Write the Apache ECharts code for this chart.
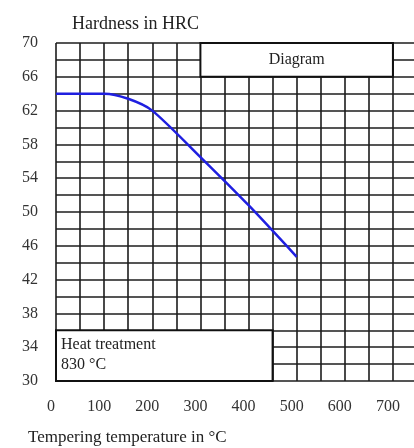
<!DOCTYPE html>
<html>
<head>
<meta charset="utf-8">
<script src="https://cdn.jsdelivr.net/npm/echarts@6/dist/echarts.min.js"></script>
<style>
  html, body { margin: 0; padding: 0; background: #fff; }
  #main { width: 414px; height: 448px; }
</style>
</head>
<body>
<div id="main"></div>
<script>
// tempering temperature (°C) and hardness (HRC)
var temps = [0, 100, 150, 200, 300, 400, 500];
var hardness = [64, 64, 63.4, 62, 56.5, 50.8, 44.7];

// tick labels (grid is finer: every 50 °C / every 2 HRC)
var xLabels = [0, 100, 200, 300, 400, 500, 600, 700];
var yLabels = [30, 34, 38, 42, 46, 50, 54, 58, 62, 66, 70];

// boxes drawn on the grid
var diagramBox = { text: 'Diagram', x: [300, 700], y: [66, 70] };
var heatBox = { text: 'Heat treatment\n830 °C', x: [0, 450], y: [30, 36] };

var serif = '"Liberation Serif", "DejaVu Serif", serif';
var gridLine = { color: '#1c1c1c', width: 1.6, type: 'solid' };

var chart = echarts.init(document.getElementById('main'));

var option = {
	backgroundColor: '#fff',
	animation: false,

	title: {
		text: 'Hardness in HRC',
		left: 67,
		top: 10,
		textStyle: {
			fontFamily: serif,
			fontSize: 18,
			fontWeight: 'normal',
			color: '#222'
		}
	},

	// grid runs a little past the right edge (picture is cropped there)
	grid: {
		left: 56,
		top: 43,
		width: 361,
		bottom: 67,
		containLabel: false,
		outerBoundsMode: 'none'
	},

	xAxis: {
		type: 'value',
		min: 0,
		max: 750,
		interval: 50,
		axisLine: { show: false },
		axisTick: { show: false },
		splitLine: { show: true, lineStyle: gridLine },
		axisLabel: {
			show: true,
			margin: 18,
			color: '#333',
			fontFamily: serif,
			fontSize: 16,
			padding: [0, 10, 0, 0],
			formatter: function(v) {
				return xLabels.indexOf(v) >= 0 ? String(v) : '';
			}
		}
	},

	yAxis: {
		type: 'value',
		min: 30,
		max: 70,
		interval: 2,
		axisLine: { show: false },
		axisTick: { show: false },
		splitLine: { show: true, lineStyle: gridLine },
		axisLabel: {
			show: true,
			margin: 18,
			color: '#333',
			fontFamily: serif,
			fontSize: 16,
			formatter: function(v) {
				return yLabels.indexOf(v) >= 0 ? String(v) : '';
			}
		}
	},

	graphic: [{
		type: 'text',
		left: 28,
		top: 429,
		style: {
			text: 'Tempering temperature in °C',
			font: '17px ' + serif,
			fill: '#222'
		}
	}],

	series: [{
		name: 'hardness',
		type: 'line',
		data: temps.map(function(t, i) { return [t, hardness[i]]; }),
		symbol: 'none',
		smooth: 0.25,
		lineStyle: { color: '#1f1fe0', width: 2.5 },
		z: 5,
		markArea: {
			silent: true,
			itemStyle: {
				color: '#fff',
				borderColor: '#111',
				borderWidth: 2
			},
			data: [
				[
					{ xAxis: diagramBox.x[0], yAxis: diagramBox.y[0],
					  label: { show: true, position: 'inside', formatter: diagramBox.text,
					           fontFamily: serif, fontSize: 16, color: '#222' } },
					{ xAxis: diagramBox.x[1], yAxis: diagramBox.y[1] }
				],
				[
					{ xAxis: heatBox.x[0], yAxis: heatBox.y[0],
					  label: { show: true, position: [6, 5], formatter: heatBox.text,
					           fontFamily: serif, fontSize: 16, lineHeight: 20, color: '#222',
					           align: 'left', verticalAlign: 'top' } },
					{ xAxis: heatBox.x[1], yAxis: heatBox.y[1] }
				]
			]
		}
	}]
};

chart.setOption(option);
</script>
</body>
</html>
